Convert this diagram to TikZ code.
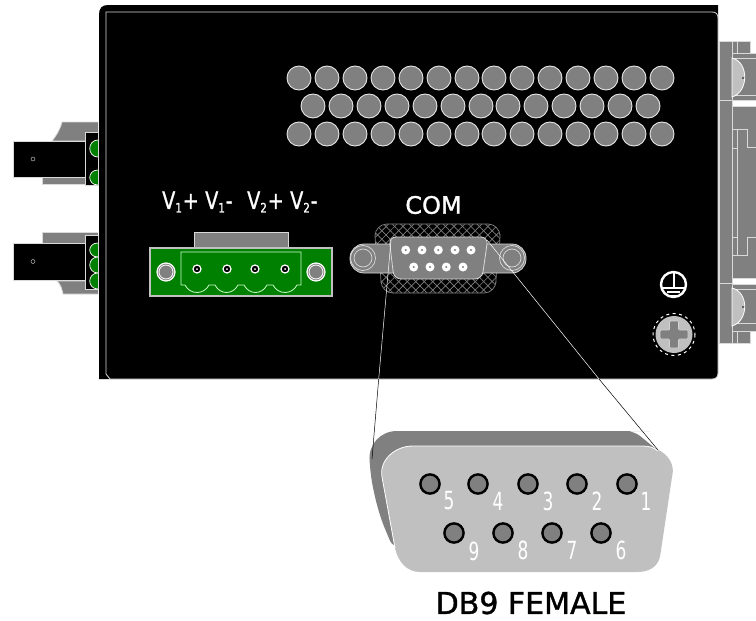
\documentclass[tikz,border=0pt]{standalone}
\usepackage{fontspec}
\setmainfont{DejaVu Sans}
\newfontfamily\fatfont[FakeBold=1.2]{DejaVu Sans}
\usetikzlibrary{patterns.meta}
\definecolor{midgrey}{RGB}{128,128,128}
\definecolor{lightgrey}{RGB}{192,192,192}
\definecolor{termgreen}{RGB}{0,128,0}
\newcommand{\vlab}[2]{\scalebox{.8}[1]{V\raisebox{-3.5pt}{\fontsize{13}{13}\selectfont #1}\hspace{1pt}#2}}
\newcommand{\dgt}[1]{\scalebox{.68}[1]{#1}}
\tikzset{
  part/.style={fill=midgrey,draw=white!85!black,line width=.8pt},
  blk/.style={fill=black,draw=white!85!black,line width=.8pt},
  edge/.style={white!85!black,line width=.8pt},
  bump/.style={fill=termgreen,draw=white,line width=.7pt},
  hole/.style={fill=midgrey,draw=white!90!black,line width=.9pt},
  socket/.style={fill=midgrey,draw=black,line width=2.4pt},
  pinw/.style={fill=white,draw=none},
  termpin/.style={fill=black,draw=white,line width=1.2pt},
  leaderw/.style={draw=white,line width=.5pt},
  leaderb/.style={draw=black,line width=.5pt},
  vtext/.style={white,anchor=west,inner sep=0pt,font=\fatfont\fontsize{24}{24}\selectfont},
  pinno/.style={white,inner sep=0pt,font=\fontsize{25}{25}\selectfont},
}
\begin{document}
\begin{tikzpicture}[x=1pt,y=-1pt]
   \useasboundingbox (0,0) rectangle (756,621);
   \begin{scope}
    \fill[black] (99,379) -- (99,15) .. controls (99,8) and (102,5) .. (108,5) -- (718,5) -- (718,373) .. controls (718,377) and (716,379) .. (712,379) -- cycle;
    \draw[edge] (106,374) -- (106,12) -- (712,12) .. controls (716,12) and (718,14) .. (718,18) -- (718,373) .. controls (718,377) and (716,379) .. (712,379) -- (110,379) -- (106,374);
    \draw[edge] (99,379) -- (106,379);
   \end{scope}
   \begin{scope}
    \draw[hole] (299,78) circle (12) (327,78) circle (12) (355,78) circle (12) (383,78) circle (12) (411,78) circle (12) (439,78) circle (12) (467,78) circle (12);
    \draw[hole] (494,78) circle (12) (522,78) circle (12) (550,78) circle (12) (578,78) circle (12) (606,78) circle (12) (634,78) circle (12) (662,78) circle (12);
    \draw[hole] (313,106) circle (12) (341,106) circle (12) (369,106) circle (12) (397,106) circle (12) (425,106) circle (12) (453,106) circle (12) (481,106) circle (12);
    \draw[hole] (508,106) circle (12) (536,106) circle (12) (564,106) circle (12) (592,106) circle (12) (620,106) circle (12) (648,106) circle (12);
    \draw[hole] (299,134) circle (12) (327,134) circle (12) (355,134) circle (12) (383,134) circle (12) (411,134) circle (12) (439,134) circle (12) (467,134) circle (12);
    \draw[hole] (494,134) circle (12) (522,134) circle (12) (550,134) circle (12) (578,134) circle (12) (606,134) circle (12) (634,134) circle (12) (662,134) circle (12);
   \end{scope}
   \begin{scope}
    \draw[part] (98,122) -- (62,122) .. controls (60,130) and (56,136) .. (52,141) -- (98,141);
    \draw[part] (42,177) -- (42,184) -- (98,184) -- (98,177);
    \draw[blk] (85,132) rectangle (98,185);
    \draw[bump] (98,140) .. controls (87,140) and (87,157) .. (98,157);
    \draw[bump] (98,170) .. controls (87,170) and (87,185) .. (98,185);
    \draw[blk] (85,141) -- (13,141) -- (13,177) -- (85,177);
    \draw[white!85!black] (33,159) circle (2);
    \draw[part] (98,232) -- (42,232) -- (42,243) -- (98,243);
    \draw[part] (98,281) -- (57,281) .. controls (61,285) and (62,289) .. (63,294) -- (98,294);
    \draw[blk] (85,235) rectangle (98,289);
    \draw[bump] (98,243) .. controls (87,243) and (87,257) .. (98,257);
    \draw[bump] (98,257) .. controls (87,257) and (87,273) .. (98,273);
    \draw[bump] (98,273) .. controls (87,273) and (87,289) .. (98,289);
    \draw[blk] (85,243) -- (13,243) -- (13,280) -- (85,280);
    \draw[white!85!black] (33,261.5) circle (2);
   \end{scope}
   \begin{scope}
    \draw(162,202) node[vtext] (vone) {\vlab{1}{+}};
    \draw(205,202) node[vtext] (vtwo) {\vlab{1}{-}};
    \draw(247,202) node[vtext] (vthree) {\vlab{2}{+}};
    \draw(290,202) node[vtext] (vfour) {\vlab{2}{-}};
    \draw[part] (194,247) -- (194,232) -- (288,232) -- (288,247);
    \draw[fill=termgreen,draw=lightgrey,line width=2.4pt] (150,248) rectangle (332,296);
    \draw[white!80!green,line width=.8pt] (185,285) -- (181,285) -- (181,252) -- (301,252) -- (301,285) -- (297,285)
      .. controls (292,295) and (278,295) .. (273,285) -- (267,285)
      .. controls (262,295) and (249,295) .. (244,285) -- (238,285)
      .. controls (233,295) and (220,295) .. (215,285) -- (209,285)
      .. controls (204,295) and (190,295) .. (185,285);
    \draw[hole,draw=white,line width=1.2pt] (166,272) circle (9);
    \draw[hole,draw=white,line width=.8pt] (166,272) circle (7);
    \draw[hole,draw=white,line width=1.2pt] (316,272) circle (9);
    \draw[hole,draw=white,line width=.8pt] (316,272) circle (7);
    \draw[termpin] (197,269) circle (4);
    \draw[termpin] (227,269) circle (4);
    \draw[termpin] (255,269) circle (4);
    \draw[termpin] (285,269) circle (4);
    \fill[white] (197,269) circle (1) (227,269) circle (1) (255,269) circle (1) (285,269) circle (1);
   \end{scope}
   \begin{scope}
    \draw(433.5,205) node[white,inner sep=0pt,font=\fatfont\fontsize{24}{24}\selectfont] (com) {COM};
    \fill[pattern={Lines[angle=45,distance=6pt,line width=.7pt]},pattern color=midgrey,rounded corners=12pt]
      (375,246) -- (375,224) -- (500,224) -- (500,246) -- (496,271) -- (496,293) -- (381,293) -- (381,271) -- cycle;
    \fill[pattern={Lines[angle=-45,distance=6pt,line width=.7pt]},pattern color=midgrey,rounded corners=12pt]
      (375,246) -- (375,224) -- (500,224) -- (500,246) -- (496,271) -- (496,293) -- (381,293) -- (381,271) -- cycle;
    \draw[edge,draw=midgrey,line width=.7pt,rounded corners=12pt]
      (375,246) -- (375,224) -- (500,224) -- (500,246) -- (496,271) -- (496,293) -- (381,293) -- (381,271) -- cycle;
    \draw[part,rounded corners=14pt] (350,244) rectangle (526,273);
    \draw[part,line width=.7pt] (363,258) circle (12.5);
    \draw[part,line width=.7pt] (363,258) circle (9);
    \draw[part,line width=.7pt] (512,258) circle (12.5);
    \draw[part,line width=.7pt] (512,258) circle (9);
    \draw[part,rounded corners=7pt] (389,237) -- (488,237) -- (482,279) -- (394,279) -- cycle;
    \fill[pinw] (405.7,250) circle (4.5) (422,250) circle (4.5) (438.3,250) circle (4.5) (455,250) circle (4.5) (471,250) circle (4.5);
    \fill[pinw] (413.7,267) circle (4.5) (430,267) circle (4.5) (446.3,267) circle (4.5) (463,267) circle (4.5);
    \fill[midgrey] (405.7,250) circle (1.1) (422,250) circle (1.1) (438.3,250) circle (1.1) (455,250) circle (1.1) (471,250) circle (1.1);
    \fill[midgrey] (413.7,267) circle (1.1) (430,267) circle (1.1) (446.3,267) circle (1.1) (463,267) circle (1.1);
   \end{scope}
   \begin{scope}
    \draw[white,line width=2.4pt] (673.5,284.5) circle (12.5);
    \draw[white,line width=2pt] (673.5,272) -- (673.5,288);
    \draw[white,line width=2pt] (661,288) -- (686,288);
    \draw[white,line width=1.8pt] (667,292) -- (680,292);
    \draw[white,line width=1.4pt] (670,295.5) -- (677,295.5);
    \draw[white,line width=1pt,dash pattern=on 3pt off 3.5pt] (674,334.5) circle (21);
    \fill[lightgrey] (674,334.5) circle (18.5);
    \draw[fill=midgrey,draw=lightgrey!70!white,line width=.7pt,rounded corners=1pt] (669.5,321) -- (678.5,321) -- (678.5,330) -- (688,330) -- (688,339) -- (678.5,339) -- (678.5,348) -- (669.5,348) -- (669.5,339) -- (660,339) -- (660,330) -- (669.5,330) -- cycle;
   \end{scope}
   \begin{scope}
    \draw[part] (719,41) rectangle (732,343);
    \draw[edge] (719,100) -- (732,100);
    \draw[edge] (719,283) -- (732,283);
    \draw[part] (732,41) rectangle (750,53);
    \draw[edge] (737,41) -- (737,53);
    \draw[part] (757,53) -- (732,53) -- (732,100) -- (757,100);
    \draw[edge] (732,58) -- (757,58);
    \draw[edge] (732,95) -- (757,95);
    \draw[fill=lightgrey,draw=white,line width=.8pt] (732,58) .. controls (749,62) and (749,92) .. (732,97) -- cycle;
    \fill[black] (743,78) circle (.9);
    \draw[part] (757,106) -- (732,106) -- (732,278) -- (757,278);
    \draw[edge] (737,129) -- (737,255);
    \draw[edge] (732,129) -- (747,129) -- (747,147) -- (757,147);
    \draw[edge] (732,255) -- (747,255) -- (747,237) -- (757,237);
    \draw[edge] (732,148) -- (737,148);
    \draw[edge] (732,237) -- (737,237);
    \draw[part] (757,284) -- (732,284) -- (732,331) -- (757,331);
    \draw[edge] (732,289) -- (757,289);
    \draw[edge] (732,323) -- (757,323);
    \draw[fill=lightgrey,draw=white,line width=.8pt] (732,288) .. controls (749,292) and (749,321) .. (732,326) -- cycle;
    \fill[black] (743,307) circle (.9);
    \draw[part] (732,331) rectangle (750,343);
    \draw[edge] (737,331) -- (737,343);
   \end{scope}
   \begin{scope}
    \fill[midgrey,rounded corners=30pt] (373,500) -- (367,431) -- (620,431) [rounded corners=8pt] -- (634,431) -- (662,454) -- (640,520) -- (393,548) [rounded corners=30pt] -- cycle;
    \fill[lightgrey] (500,446) -- (643,446) .. controls (658,446) and (677,458) .. (672,477) -- (660,557) .. controls (657,568) and (648,572) .. (637,572) -- (420,572) .. controls (407,572) and (398,562) .. (395,548) -- (382,477) .. controls (379,460) and (395,446) .. (413,446) -- cycle;
    \draw[white,line width=.8pt] (395,548) -- (382,477) .. controls (379,460) and (395,446) .. (413,446) -- (643,446) .. controls (650,446) and (654,448) .. (658,451);
    \draw[socket] (430,484) circle (9.6);
    \draw[socket] (478,484) circle (9.6);
    \draw[socket] (528,484) circle (9.6);
    \draw[socket] (577,484) circle (9.6);
    \draw[socket] (627,484) circle (9.6);
    \draw[socket] (454,533) circle (9.6);
    \draw[socket] (503,533) circle (9.6);
    \draw[socket] (552,533) circle (9.6);
    \draw[socket] (601,533) circle (9.6);
    \draw(449,501) node[pinno] (pinfive) {\dgt{5}};
    \draw(498,501) node[pinno] (pinfour) {\dgt{4}};
    \draw(548,501) node[pinno] (pinthree) {\dgt{3}};
    \draw(597,501) node[pinno] (pintwo) {\dgt{2}};
    \draw(646,501) node[pinno] (pinone) {\dgt{1}};
    \draw(474,551) node[pinno] (pinnine) {\dgt{9}};
    \draw(523,550) node[pinno] (pineight) {\dgt{8}};
    \draw(572,550) node[pinno] (pinseven) {\dgt{7}};
    \draw(621,550) node[pinno] (pinsix) {\dgt{6}};
    \draw(531,603) node[black,inner sep=0pt,font=\fatfont\fontsize{30}{30}\selectfont] (dbnine) {DB9 FEMALE};
   \end{scope}
   \coordinate (lefttop) at (391,240);
   \coordinate (leftmid) at (378.7,379);
   \coordinate (leftend) at (372,459);
   \coordinate (righttop) at (487,240);
   \coordinate (rightmid) at (599,379);
   \coordinate (rightend) at (658,450);
   \draw[leaderw] (lefttop) -- (leftmid);
   \draw[leaderb] (leftmid) -- (leftend);
   \draw[leaderw] (righttop) -- (rightmid);
   \draw[leaderb] (rightmid) -- (rightend);
\end{tikzpicture}
\end{document}
